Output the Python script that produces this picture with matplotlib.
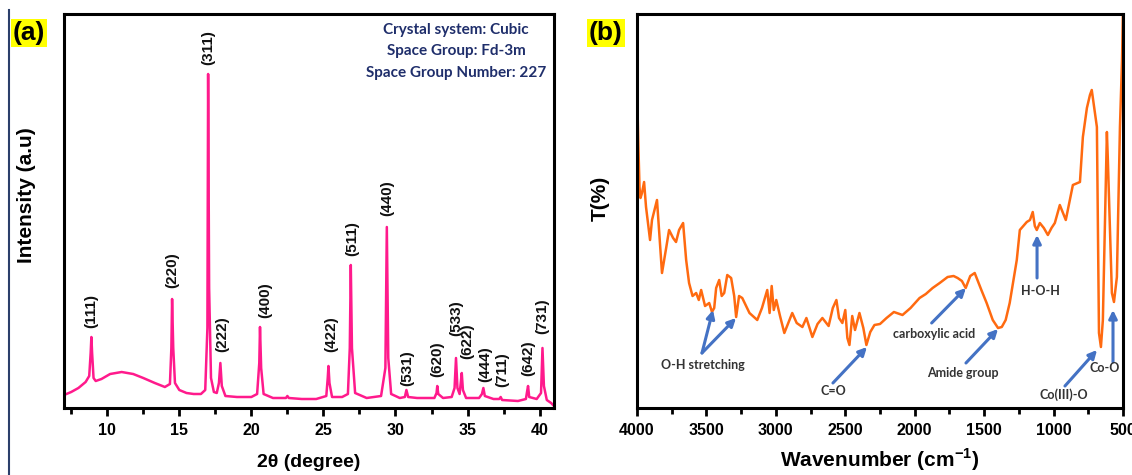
import numpy as np
import matplotlib.pyplot as plt
from matplotlib.lines import Line2D

# (a) XRD pattern
two_theta = [7.0, 7.5, 8.0, 8.5, 8.75, 8.85, 8.9, 8.95, 9.05, 9.2, 9.6, 10.2, 11.0, 11.8, 12.5, 13.3, 14.0,
             14.35, 14.45, 14.5, 14.58, 14.7, 15.0, 15.5, 16.0, 16.5, 16.8, 16.95, 17.0, 17.07, 17.2, 17.4,
             17.6, 17.75, 17.85, 17.95, 18.2, 19.0, 20.0, 20.4, 20.55, 20.6, 20.68, 20.85, 21.5, 22.4, 22.5,
             22.6, 23.5, 24.5, 25.2, 25.3, 25.35, 25.42, 25.6, 26.3, 26.7, 26.83, 26.9, 26.98, 27.2, 28.0,
             29.0, 29.3, 29.4, 29.5, 29.7, 30.3, 30.65, 30.76, 30.88, 31.5, 32.7, 32.85, 32.9, 32.97, 33.3,
             33.9, 34.1, 34.2, 34.3, 34.45, 34.55, 34.6, 34.68, 34.9, 35.8, 36.0, 36.1, 36.2, 36.8, 37.2,
             37.3, 37.4, 38.5, 39.05, 39.15, 39.2, 39.28, 39.8, 40.1, 40.2, 40.3, 40.5, 40.8, 41.0]
intensity = [13, 16, 20, 26, 32, 55, 71, 55, 30, 27, 29, 34, 36, 34, 30, 25, 21,
             24, 60, 109, 60, 25, 18, 15, 14, 14, 18, 80, 334, 120, 30, 16,
             15, 25, 45, 22, 12, 11, 11, 14, 45, 81, 40, 14, 10, 10, 12,
             10, 9, 9, 12, 30, 42, 25, 11, 11, 14, 60, 143, 60, 15, 10,
             12, 40, 181, 50, 14, 10, 11, 18, 11, 10, 10, 15, 22, 14, 10,
             11, 20, 50, 20, 14, 28, 35, 18, 10, 10, 14, 20, 12, 9, 9,
             11, 8, 7, 9, 18, 22, 11, 9, 15, 60, 22, 8, 5, 2]

hkl = ['(111)', '(220)', '(311)', '(222)', '(400)', '(422)', '(511)', '(440)',
       '(531)', '(620)', '(533)', '(622)', '(444)', '(711)', '(642)', '(731)']
hkl_x = [8.9, 14.5, 17.0, 18.0, 20.95, 25.55, 27.0, 29.45, 30.8, 32.9, 34.2, 35.0, 36.2, 37.4, 39.2, 40.15]
hkl_y = [80, 120, 343, 56, 90, 56, 152, 192, 22, 31, 72, 49, 26, 21, 32, 74]

# (b) FTIR spectrum
wavenumber = [4000, 3990, 3982, 3975, 3964, 3949, 3935, 3906, 3892, 3856, 3820, 3790, 3769, 3740, 3719, 3697,
              3668, 3646, 3625, 3600, 3574, 3555, 3538, 3510, 3480, 3460, 3444, 3430, 3408, 3390, 3372,
              3350, 3322, 3300, 3286, 3265, 3242, 3190, 3134, 3100, 3062, 3045, 3030, 3015, 2997, 2970,
              2939, 2882, 2850, 2809, 2780, 2737, 2700, 2665, 2620, 2590, 2564, 2545, 2521, 2500, 2485,
              2470, 2450, 2430, 2398, 2370, 2348, 2320, 2290, 2250, 2203, 2150, 2088, 2030, 1965, 1920,
              1871, 1820, 1763, 1720, 1691, 1660, 1633, 1600, 1568, 1520, 1482, 1438, 1400, 1373, 1345,
              1316, 1265, 1243, 1193, 1170, 1150, 1135, 1121, 1099, 1070, 1041, 1015, 991, 955, 912,
              861, 810, 789, 760, 738, 725, 717, 688, 673, 659, 645, 616, 609, 580, 565, 544, 522, 507, 500]
transmit = [321, 262, 221, 210, 215, 226, 201, 168, 188, 208, 135, 160, 178, 170, 166, 178,
            185, 148, 125, 112, 115, 108, 118, 102, 105, 96, 100, 120, 128, 112, 115,
            133, 130, 112, 91, 112, 110, 95, 88, 100, 118, 95, 122, 98, 108, 92,
            75, 95, 85, 81, 90, 71, 84, 90, 82, 100, 108, 90, 85, 98, 70,
            63, 92, 78, 95, 80, 63, 76, 83, 84, 90, 96, 93, 100, 110, 114,
            120, 125, 131, 132, 130, 127, 120, 132, 135, 118, 105, 88, 80, 81, 88,
            105, 148, 178, 186, 188, 196, 182, 178, 185, 180, 173, 180, 185, 203, 188,
            223, 226, 271, 300, 313, 318, 310, 281, 75, 61, 88, 276, 248, 115, 106, 131, 281, 348, 400]

# band labels: text, text position, arrow tails and tips
bands = ['O-H stretching', 'C=O', 'carboxylic acid', 'Amide group', 'H-O-H', 'Co(III)-O', 'Co-O']
band_text = [(3525, 43), (2589, 17), (1861, 74), (1653, 35), (1098, 117), (925, 13), (630, 40)]
arrow_tail = [(3532, 55), (3532, 55), (2589, 25), (1878, 85), (1631, 45), (1119, 130), (918, 22), (572, 46)]
arrow_tip = [(3453, 98), (3287, 90), (2344, 61), (1631, 120), (1400, 79), (1119, 173), (687, 58), (572, 98)]

plt.rcParams['font.family'] = ['Liberation Sans', 'DejaVu Sans']
plt.rcParams['mathtext.fontset'] = 'custom'
plt.rcParams['mathtext.bf'] = 'Liberation Sans:bold'
plt.rcParams['mathtext.rm'] = 'Liberation Sans'
fig = plt.figure(figsize=(11.32, 4.75), dpi=100)

ax1 = fig.add_axes([64 / 1132, 1 - 408 / 475, 490 / 1132, 394 / 475])
ax2 = fig.add_axes([637 / 1132, 1 - 408 / 475, 486 / 1132, 394 / 475])

ax1.plot(two_theta, intensity, color='#FF1A8C', lw=1.8)
ax1.set_xlim(7, 41)
ax1.set_ylim(0, 394)
ax1.set_xticks([10, 15, 20, 25, 30, 35, 40])
ax1.set_xticks(np.arange(7.5, 41, 2.5), minor=True)
for t, x, y in zip(hkl, hkl_x, hkl_y):
    ax1.text(x, y, t, rotation=90, ha='center', va='bottom', fontsize=11, fontweight='bold',
             color='#111111')
ax1.text(0.80, 0.96, 'Crystal system: Cubic', transform=ax1.transAxes, ha='center', va='center',
         fontsize=11, fontweight='bold', color='#1F2E6B', family='Lato')
ax1.text(0.80, 0.905, 'Space Group: Fd-3m', transform=ax1.transAxes, ha='center', va='center',
         fontsize=11, fontweight='bold', color='#1F2E6B', family='Lato')
ax1.text(0.80, 0.85, 'Space Group Number: 227', transform=ax1.transAxes, ha='center', va='center',
         fontsize=11, fontweight='bold', color='#1F2E6B', family='Lato')
ax1.set_xlabel('2θ (degree)', fontsize=14, fontweight='bold', labelpad=11)
ax1.set_ylabel('Intensity (a.u)', fontsize=15, fontweight='bold')
ax1.yaxis.set_label_coords(-0.057, 0.54)

ax2.plot(wavenumber, transmit, color='#FF6A10', lw=1.8)
ax2.set_xlim(4000, 500)
ax2.set_ylim(0, 394)
ax2.set_xticks([4000, 3500, 3000, 2500, 2000, 1500, 1000, 500])
ax2.set_xticks(np.arange(3750, 500, -500), minor=True)
for (x0, y0), (x1, y1) in zip(arrow_tail, arrow_tip):
    ax2.annotate('', xy=(x1, y1), xytext=(x0, y0),
                 arrowprops=dict(arrowstyle='-|>', color='#4472C4', lw=2.2, mutation_scale=12,
                                 shrinkA=0, shrinkB=0))
for t, (x, y) in zip(bands, band_text):
    ax2.text(x, y, t, ha='center', va='center', fontsize=9, fontweight='bold', color='#333333',
             family='Lato')
ax2.set_xlabel(r'Wavenumber (cm$^{\mathbf{-1}}$)', fontsize=15, fontweight='bold', labelpad=6)
ax2.set_ylabel('T(%)', fontsize=15, fontweight='bold')
ax2.yaxis.set_label_coords(-0.056, 0.533)

for ax in (ax1, ax2):
    ax.set_yticks([])
    for s in ax.spines.values():
        s.set_linewidth(2.2)
    ax.tick_params(axis='x', which='major', length=6, width=2, labelsize=11.5, pad=5)
    ax.tick_params(axis='x', which='minor', length=4, width=2)
    for lab in ax.get_xticklabels():
        lab.set_fontweight('bold')

fig.text(13 / 1132, 1 - 33 / 475, '(a)', fontsize=19, fontweight='bold', va='center', ha='left',
         bbox=dict(facecolor='#FFFF00', edgecolor='none', pad=1.5))
fig.text(589 / 1132, 1 - 33 / 475, '(b)', fontsize=19, fontweight='bold', va='center', ha='left',
         bbox=dict(facecolor='#FFFF00', edgecolor='none', pad=1.5))
fig.add_artist(Line2D([9 / 1132, 9 / 1132], [0, 1 - 10 / 475], transform=fig.transFigure,
                      color='#2B3F6B', lw=1.5))

fig.savefig('out.png', dpi=100)
